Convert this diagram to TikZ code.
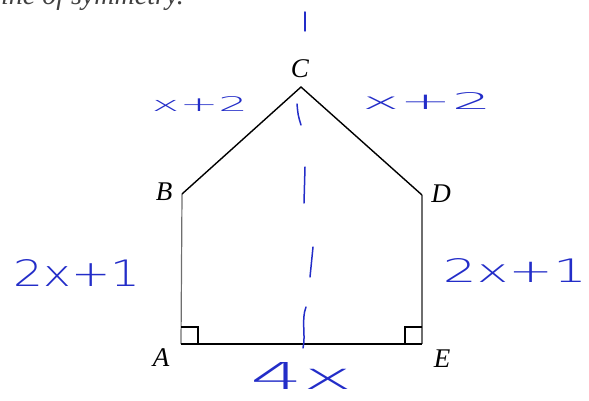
\documentclass[tikz,border=0pt]{standalone}
\usepackage{fontspec}
\setmainfont{Liberation Serif}
\newfontfamily\handfont{DejaVu Sans ExtraLight}
\definecolor{handblue}{RGB}{35,45,200}
\definecolor{sidegray}{RGB}{110,110,110}
\newcommand{\hwtext}[3]{\resizebox{#1pt}{#2pt}{\handfont #3}}
\begin{document}
\begin{tikzpicture}[x=1pt,y=-1pt,
  side/.style={line width=1.2pt, draw=sidegray},
  edge/.style={line width=1.4pt, draw=black},
  sym/.style={line width=1.5pt, draw=handblue, line cap=round},
  vlabel/.style={inner sep=0pt, font=\fontsize{27}{27}\selectfont\itshape},
  hw/.style={inner sep=0pt, text=handblue}]
\useasboundingbox (0,0) rectangle (589,401);
\clip (0,0) rectangle (589,401);
% cut-off heading
\node[anchor=base east, inner sep=0pt, font=\fontsize{28}{28}\selectfont\itshape, text=black!75] (head) at (184,5) {line of symmetry.};
% vertices
\coordinate (A) at (181,344);
\coordinate (B) at (182,194);
\coordinate (C) at (301,87);
\coordinate (D) at (422,195);
\coordinate (E) at (422,344);
% shape
\draw[side] (A) -- (B);
\draw[side] (D) -- (E);
\draw[edge] (B) -- (C) -- (D);
\draw[edge] (A) -- (E);
% right angles
\draw[line width=1.1pt] (A) ++(0,-17) -- ++(17,0) -- ++(0,17);
\draw[line width=1.1pt] (E) ++(0,-17) -- ++(-17,0) -- ++(0,17);
% vertex labels
\node[vlabel] (lC) at (300,69) {C};
\node[vlabel] (lB) at (164,192) {B};
\node[vlabel] (lD) at (441,194) {D};
\node[vlabel] (lA) at (161,358) {A};
\node[vlabel] (lE) at (442,359) {E};
% hand-drawn line of symmetry
\coordinate (s1a) at (305,12); \coordinate (s1b) at (305,31);
\coordinate (s2a) at (297,104); \coordinate (s2b) at (301,125);
\coordinate (s3a) at (305,167); \coordinate (s3b) at (304,203);
\coordinate (s4a) at (313,247); \coordinate (s4b) at (310,277);
\coordinate (s5a) at (306,307); \coordinate (s5b) at (303,348);
\draw[sym] (s1a) -- (s1b);
\draw[sym] (s2a) .. controls (298,115) .. (s2b);
\draw[sym] (s3a) -- (s3b);
\draw[sym] (s4a) -- (s4b);
\draw[sym] (s5a) .. controls (301,320) and (306,335) .. (s5b);
% handwritten side lengths
\node[hw] (t1) at (200,104) {\hwtext{96}{15}{x+2}};
\node[hw] (t2) at (427,101) {\hwtext{129}{17}{x+2}};
\node[hw] (t3) at (77,273) {\hwtext{127}{27}{2x+1}};
\node[hw] (t4) at (515,270) {\hwtext{144}{24}{2x+1}};
\node[hw] (t5) at (302,376) {\hwtext{102}{27}{4x}};
\end{tikzpicture}
\end{document}
